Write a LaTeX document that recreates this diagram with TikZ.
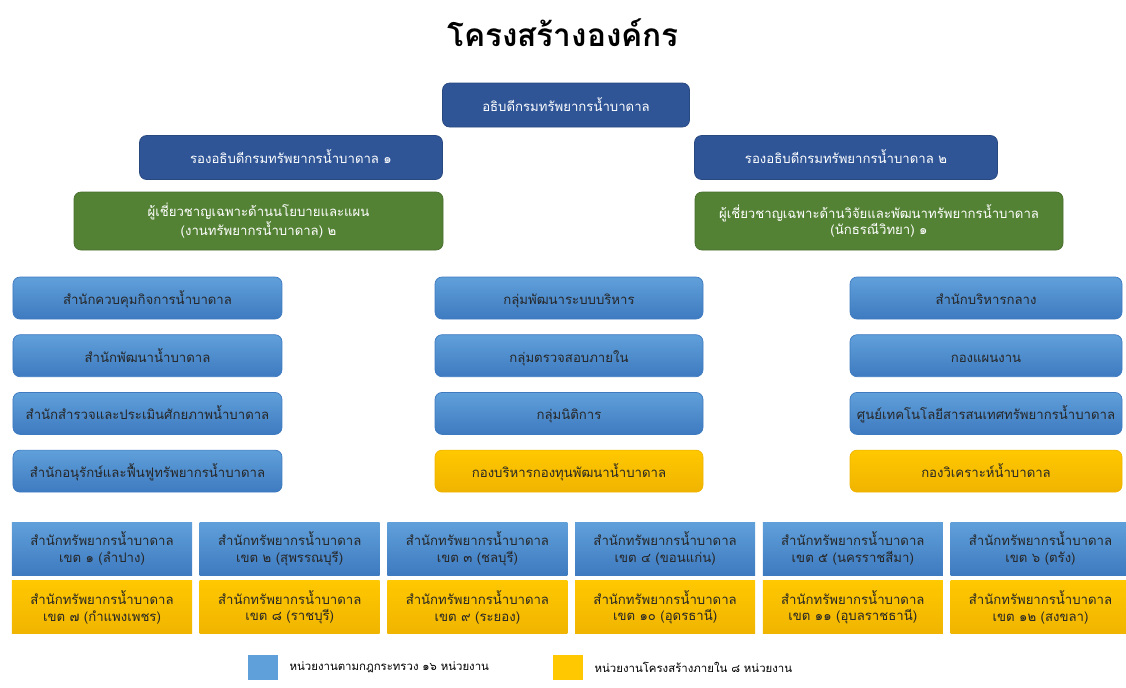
\documentclass[tikz,border=0pt]{standalone}
\usepackage{fontspec}
\setmainfont[Script=Thai]{Loma}
\usepackage{xcolor}
\usepackage{tikz}
\usetikzlibrary{positioning}

\definecolor{chiefblue}{RGB}{47,85,151}
\definecolor{advgreen}{RGB}{84,130,53}
\definecolor{unitblue}{RGB}{96,160,218}
\definecolor{unitbluedk}{RGB}{62,122,192}
\definecolor{unitgold}{RGB}{255,200,0}
\definecolor{unitgolddk}{RGB}{240,180,0}

\begin{document}
\begin{tikzpicture}[node distance=0.3cm, font=\fontsize{7.5}{9.5}\selectfont,
        chief/.style={rectangle, draw=chiefblue!85!black, fill=chiefblue, text=white, rounded corners=4pt, align=center, minimum height=0.88cm, text height=2ex, text depth=0.6ex},
        expert/.style={rectangle, draw=advgreen!85!black, fill=advgreen, text=white, rounded corners=4pt, align=center, minimum height=1.16cm},
        office/.style={rectangle, draw=unitbluedk, top color=unitblue, bottom color=unitbluedk, text=black!85, rounded corners=4pt, minimum height=0.84cm, text height=2ex, text depth=0.6ex},
        fund/.style={office, draw=unitgolddk, top color=unitgold, bottom color=unitgolddk},
        region/.style={rectangle, top color=unitblue, bottom color=unitbluedk, text=black!85, align=center, minimum width=3.6cm, minimum height=1.06cm},
        regionfund/.style={region, top color=unitgold, bottom color=unitgolddk},
        keybox/.style={rectangle, minimum width=0.6cm, minimum height=0.5cm}]

        \useasboundingbox (0,0) rectangle (22.52,-13.74);

        \node [font=\fontsize{18}{21}\selectfont\bfseries] (title) at (11.26,-0.66) {โครงสร้างองค์กร};

        % Executives
        \node [chief, minimum width=4.94cm] (director) at (11.32,-2.10) {อธิบดีกรมทรัพยากรน้ำบาดาล};
        \node [chief, minimum width=6.06cm] (deputyone) at (5.82,-3.15) {รองอธิบดีกรมทรัพยากรน้ำบาดาล ๑};
        \node [chief, minimum width=6.06cm] (deputytwo) at (16.92,-3.15) {รองอธิบดีกรมทรัพยากรน้ำบาดาล ๒};
        \node [expert, minimum width=7.38cm] (expertplan) at (5.17,-4.42) {ผู้เชี่ยวชาญเฉพาะด้านนโยบายและแผน\\(งานทรัพยากรน้ำบาดาล) ๒};
        \node [expert, minimum width=7.36cm] (expertgeo) at (17.58,-4.42) {ผู้เชี่ยวชาญเฉพาะด้านวิจัยและพัฒนาทรัพยากรน้ำบาดาล\\(นักธรณีวิทยา) ๑};

        % Bureaus, left column
        \node [office, minimum width=5.38cm] (control) at (2.95,-5.96) {สำนักควบคุมกิจการน้ำบาดาล};
        \node [office, minimum width=5.38cm, below=of control] (develop) {สำนักพัฒนาน้ำบาดาล};
        \node [office, minimum width=5.38cm, below=of develop] (survey) {สำนักสำรวจและประเมินศักยภาพน้ำบาดาล};
        \node [office, minimum width=5.38cm, below=of survey] (conserve) {สำนักอนุรักษ์และฟื้นฟูทรัพยากรน้ำบาดาล};

        % Groups, middle column
        \node [office, minimum width=5.36cm] (psdg) at (11.38,-5.96) {กลุ่มพัฒนาระบบบริหาร};
        \node [office, minimum width=5.36cm, below=of psdg] (audit) {กลุ่มตรวจสอบภายใน};
        \node [office, minimum width=5.36cm, below=of audit] (legal) {กลุ่มนิติการ};
        \node [fund, minimum width=5.36cm, below=of legal] (fundadmin) {กองบริหารกองทุนพัฒนาน้ำบาดาล};

        % Divisions, right column
        \node [office, minimum width=5.44cm] (central) at (19.72,-5.96) {สำนักบริหารกลาง};
        \node [office, minimum width=5.44cm, below=of central] (planning) {กองแผนงาน};
        \node [office, minimum width=5.44cm, below=of planning] (ictcenter) {ศูนย์เทคโนโลยีสารสนเทศทรัพยากรน้ำบาดาล};
        \node [fund, minimum width=5.44cm, below=of ictcenter] (analysis) {กองวิเคราะห์น้ำบาดาล};

        % Regional offices
        \node [region] (regone) at (2.04,-10.97) {สำนักทรัพยากรน้ำบาดาล\\เขต ๑ (ลำปาง)};
        \node [region, right=0.14cm of regone] (regtwo) {สำนักทรัพยากรน้ำบาดาล\\เขต ๒ (สุพรรณบุรี)};
        \node [region, right=0.14cm of regtwo] (regthree) {สำนักทรัพยากรน้ำบาดาล\\เขต ๓ (ชลบุรี)};
        \node [region, right=0.14cm of regthree] (regfour) {สำนักทรัพยากรน้ำบาดาล\\เขต ๔ (ขอนแก่น)};
        \node [region, right=0.14cm of regfour] (regfive) {สำนักทรัพยากรน้ำบาดาล\\เขต ๕ (นครราชสีมา)};
        \node [region, right=0.14cm of regfive] (regsix) {สำนักทรัพยากรน้ำบาดาล\\เขต ๖ (ตรัง)};

        \node [regionfund, below=0.10cm of regone] (regseven) {สำนักทรัพยากรน้ำบาดาล\\เขต ๗ (กำแพงเพชร)};
        \node [regionfund, below=0.10cm of regtwo] (regeight) {สำนักทรัพยากรน้ำบาดาล\\เขต ๘ (ราชบุรี)};
        \node [regionfund, below=0.10cm of regthree] (regnine) {สำนักทรัพยากรน้ำบาดาล\\เขต ๙ (ระยอง)};
        \node [regionfund, below=0.10cm of regfour] (regten) {สำนักทรัพยากรน้ำบาดาล\\เขต ๑๐ (อุดรธานี)};
        \node [regionfund, below=0.10cm of regfive] (regeleven) {สำนักทรัพยากรน้ำบาดาล\\เขต ๑๑ (อุบลราชธานี)};
        \node [regionfund, below=0.10cm of regsix] (regtwelve) {สำนักทรัพยากรน้ำบาดาล\\เขต ๑๒ (สงขลา)};

        % Legend
        \node [keybox, fill=unitblue] (keyblue) at (5.26,-13.35) {};
        \node [right=0.1cm of keyblue, font=\fontsize{6.5}{8}\selectfont] (keybluetext) {หน่วยงานตามกฎกระทรวง ๑๖ หน่วยงาน};
        \node [keybox, fill=unitgold] (keygold) at (11.36,-13.35) {};
        \node [right=0.1cm of keygold, font=\fontsize{6.5}{8}\selectfont] (keygoldtext) {หน่วยงานโครงสร้างภายใน ๘ หน่วยงาน};

    \end{tikzpicture}
\end{document}
